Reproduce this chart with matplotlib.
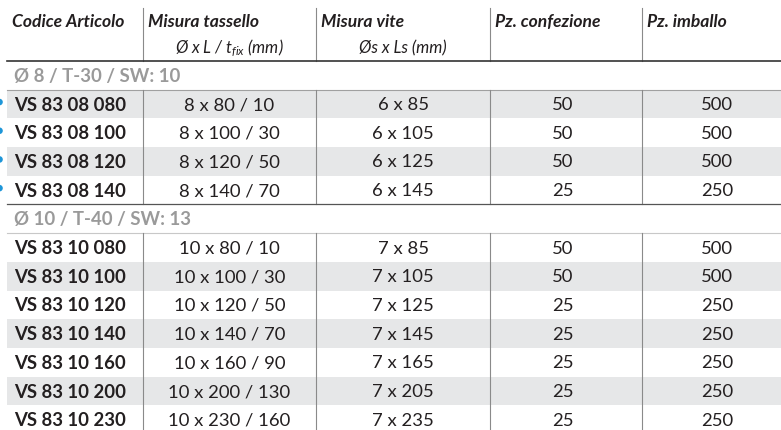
import matplotlib
matplotlib.use("Agg")
import matplotlib.pyplot as plt
from matplotlib.patches import Rectangle, Circle

# ---------------- data ----------------
headers = ["Codice Articolo", "Misura tassello", "Misura vite", "Pz. confezione", "Pz. imballo"]
subheaders = ["", "Ø x L / $t_{fix}$ (mm)", "Øs x Ls (mm)", "", ""]

group_titles = ["Ø 8 / T-30 / SW: 10", "Ø 10 / T-40 / SW: 13"]

codes_g1 = ["VS 83 08 080", "VS 83 08 100", "VS 83 08 120", "VS 83 08 140"]
tassello_g1 = ["8 x 80 / 10", "8 x 100 / 30", "8 x 120 / 50", "8 x 140 / 70"]
vite_g1 = ["6 x 85", "6 x 105", "6 x 125", "6 x 145"]
conf_g1 = [50, 50, 50, 25]
imb_g1 = [500, 500, 500, 250]

codes_g2 = ["VS 83 10 080", "VS 83 10 100", "VS 83 10 120", "VS 83 10 140",
            "VS 83 10 160", "VS 83 10 200", "VS 83 10 230"]
tassello_g2 = ["10 x 80 / 10", "10 x 100 / 30", "10 x 120 / 50", "10 x 140 / 70",
               "10 x 160 / 90", "10 x 200 / 130", "10 x 230 / 160"]
vite_g2 = ["7 x 85", "7 x 105", "7 x 125", "7 x 145", "7 x 165", "7 x 205", "7 x 235"]
conf_g2 = [50, 50, 25, 25, 25, 25, 25]
imb_g2 = [500, 500, 250, 250, 250, 250, 250]

groups = [
    (group_titles[0], codes_g1, tassello_g1, vite_g1, conf_g1, imb_g1),
    (group_titles[1], codes_g2, tassello_g2, vite_g2, conf_g2, imb_g2),
]

# ---------------- style / layout ----------------
FONT = "Lato"
plt.rcParams["font.family"] = [FONT, "DejaVu Sans"]
plt.rcParams["mathtext.fontset"] = "custom"
plt.rcParams["mathtext.it"] = FONT + ":italic"
plt.rcParams["mathtext.rm"] = FONT

W, H = 781, 430
fig = plt.figure(figsize=(W / 100, H / 100), dpi=100)
ax = fig.add_axes([0, 0, 1, 1])
ax.set_xlim(0, W)
ax.set_ylim(H, 0)
ax.axis("off")

TXT = "#231f20"
GREY_ROW = "#e6e7e8"
GROUP_TXT = "#9a9a9a"
VLINE = "#8a8a8a"
BLUE = "#1e96d8"

x_left = 7
col_edges = [x_left, 143, 316, 490, 642, 800]
col_centers = [None, 229.5, 403, 563, 717]
head_top = 8
head_bot = 61
row_h = 28.7
fs = 13.3
fs_group = 13.4
fs_head = 12.6
fs_sub = 12.0

# header
for i, h in enumerate(headers):
    x = col_edges[i] + 5
    ax.text(x, 22, h, fontsize=fs_head, fontweight="bold", fontstyle="italic",
            color=TXT, ha="left", va="center")
    if subheaders[i]:
        ax.text(col_centers[i], 48, subheaders[i], fontsize=fs_sub,
                fontstyle="italic", color=TXT, ha="center", va="center")
for xe in col_edges[1:5]:
    ax.plot([xe, xe], [head_top, head_bot], color=VLINE, lw=0.8)
ax.plot([x_left, W], [head_bot, head_bot], color="#333333", lw=1.2)

y = head_bot
for gi, (title, codes, tas, vit, conf, imb) in enumerate(groups):
    # group title row
    ax.text(x_left + 7, y + row_h / 2 + 1, title, fontsize=fs_group, fontweight="bold",
            color=GROUP_TXT, ha="left", va="center")
    y += row_h
    ax.plot([x_left, W], [y, y], color="#a0a0a0" if gi == 0 else "#c8c8c8", lw=0.8)
    y_start = y
    for r in range(len(codes)):
        shade = (r % 2 == 0) if gi == 0 else (r % 2 == 1)
        if shade:
            ax.add_patch(Rectangle((x_left, y), W - x_left, row_h, color=GREY_ROW, lw=0, zorder=0))
        yc = y + row_h / 2 + 1
        ax.text(x_left + 7, yc, codes[r], fontsize=fs, fontweight="bold", color=TXT,
                ha="left", va="center")
        ax.text(col_centers[1], yc, tas[r], fontsize=fs, color=TXT, ha="center", va="center")
        ax.text(col_centers[2], yc, vit[r], fontsize=fs, color=TXT, ha="center", va="center")
        ax.text(col_centers[3], yc, str(conf[r]), fontsize=fs, color=TXT, ha="center", va="center")
        ax.text(col_centers[4], yc, str(imb[r]), fontsize=fs, color=TXT, ha="center", va="center")
        if gi == 0:
            ax.add_patch(Circle((-0.5, yc - 3), 3.3, color=BLUE, lw=0, clip_on=True))
        y += row_h
    for xe in col_edges[1:5]:
        ax.plot([xe, xe], [y_start, min(y, H + 5)], color=VLINE, lw=0.8)
    if gi == 0:
        ax.plot([x_left, W], [y, y], color="#555555", lw=0.9)

fig.savefig("out.png", dpi=100)
